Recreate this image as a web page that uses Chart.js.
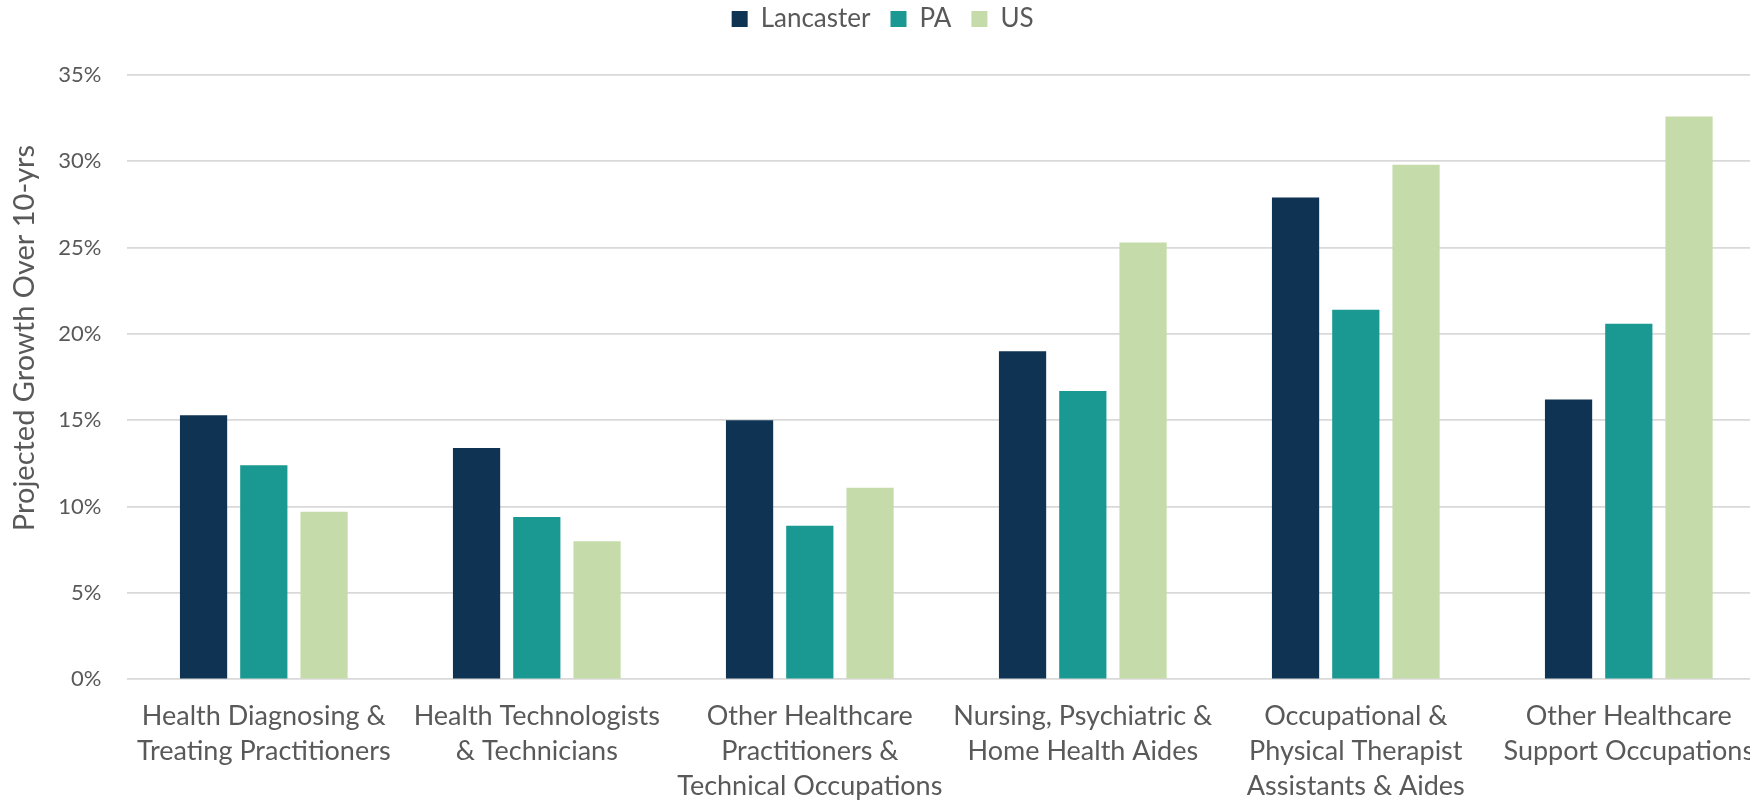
<!DOCTYPE html>
<html>
<head>
<meta charset="utf-8">
<script src="https://cdn.jsdelivr.net/npm/chart.js@4/dist/chart.umd.min.js"></script>
<style>
  html, body { margin: 0; padding: 0; background: #fff; overflow: hidden; }
  #chartCanvas { position: absolute; left: 0; top: 0; }
</style>
</head>
<body>
<canvas id="chartCanvas" width="1780" height="804"></canvas>
<script>
// occupation groups (multi-line labels as in the original)
const categories = [
    ["Health Diagnosing &", "Treating Practitioners"],
    ["Health Technologists", "& Technicians"],
    ["Other Healthcare", "Practitioners &", "Technical Occupations"],
    ["Nursing, Psychiatric &", "Home Health Aides"],
    ["Occupational &", "Physical Therapist", "Assistants & Aides"],
    ["Other Healthcare", "Support Occupations"]
];

// projected growth over 10 years, in %
const lancaster = [15.3, 13.4, 15.0, 19.0, 27.9, 16.2];
const pa = [12.4, 9.4, 8.9, 16.7, 21.4, 20.6];
const us = [9.7, 8.0, 11.1, 25.3, 29.8, 32.6];

const yTicks = [0, 5, 10, 15, 20, 25, 30, 35];
const yTitle = "Projected Growth Over 10-yrs";

const textColor = "#595959";
const fontName = "Lato";

// legend sits higher than chart.js puts it, and the plot starts lower
const legendTweak = {
    id: "legendTweak",
    afterInit(chart) {
        const fit = chart.legend.fit;
        chart.legend.fit = function () {
            fit.call(this);
            this.height = 75;
        };
    },
    afterLayout(chart) {
        chart.legend.top = -14;
        chart.legend.bottom = 61;
    }
};

// y axis title, drawn by hand so it can sit where the original has it
const yTitlePlugin = {
    id: "yTitlePlugin",
    afterDraw(chart) {
        const ctx = chart.ctx;
        ctx.save();
        ctx.translate(25, 338);
        ctx.rotate(-Math.PI / 2);
        ctx.font = "29px " + fontName;
        ctx.fillStyle = textColor;
        ctx.textAlign = "center";
        ctx.textBaseline = "middle";
        ctx.fillText(yTitle, 0, 0);
        ctx.restore();
    }
};

const ctx = document.getElementById("chartCanvas").getContext("2d");
const chart = new Chart(ctx, {
    type: "bar",
    data: {
        labels: categories,
        datasets: [
            { label: "Lancaster", data: lancaster, backgroundColor: "#0E3353" },
            { label: "PA", data: pa, backgroundColor: "#1A9892" },
            { label: "US", data: us, backgroundColor: "#C5DCAA" }
        ]
    },
    options: {
        responsive: false,
        animation: false,
        devicePixelRatio: 1,
        layout: { padding: { left: 0, right: 14.7, top: 0, bottom: 0 } },
        datasets: {
            bar: { barPercentage: 0.784, categoryPercentage: 0.662 }
        },
        plugins: {
            tooltip: { enabled: false },
            legend: {
                position: "top",
                labels: {
                    boxWidth: 16,
                    boxHeight: 16,
                    padding: 20,
                    color: textColor,
                    font: { family: fontName, size: 26 }
                }
            }
        },
        scales: {
            x: {
                grid: { display: false, drawTicks: false },
                border: { display: false },
                ticks: {
                    color: textColor,
                    padding: 20,
                    autoSkip: false,
                    maxRotation: 0,
                    font: { family: fontName, size: 27, lineHeight: 1.285 }
                },
                afterFit(scale) { scale.height = 124.7; }
            },
            y: {
                min: 0,
                max: 35,
                afterBuildTicks(scale) { scale.ticks = yTicks.map(v => ({ value: v })); },
                grid: { color: "#D9D9D9", lineWidth: 1.8, drawTicks: false },
                border: { display: false },
                ticks: {
                    color: textColor,
                    padding: 26,
                    font: { family: fontName, size: 22 },
                    callback: v => v + "%"
                },
                afterFit(scale) { scale.width = 127.3; }
            }
        }
    },
    plugins: [legendTweak, yTitlePlugin]
});
</script>
</body>
</html>
